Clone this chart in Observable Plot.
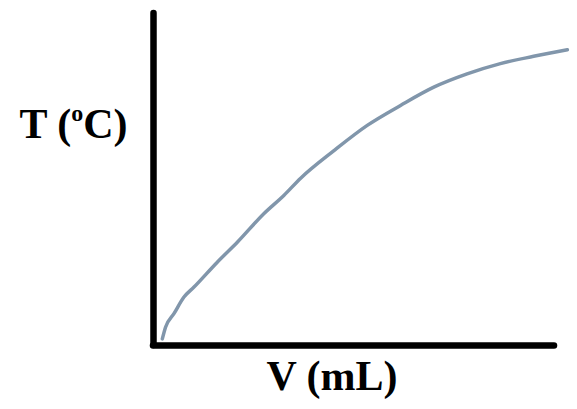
<!DOCTYPE html>
<html>
<head>
<meta charset="utf-8">
<script src="https://cdn.jsdelivr.net/npm/d3@7"></script>
<script src="https://cdn.jsdelivr.net/npm/@observablehq/plot@0.6"></script>
<style>
  html, body { margin: 0; padding: 0; background: #fff; }
</style>
</head>
<body>
<div id="chart"></div>
<script>
// Volume (arbitrary units, 0–100 along the axis)
const volume = [2.2, 3.0, 5.1, 7.6, 10.1, 15.9, 20.9, 27.5, 32.5, 36.7, 45.0, 53.3, 61.6, 69.9, 78.2, 86.5, 94.8, 103.2];
// Temperature (arbitrary units, 0–100 along the axis)
const temperature = [2.0, 5.5, 9.6, 14.6, 17.6, 25.1, 31.1, 39.7, 45.2, 50.4, 58.7, 66.3, 72.3, 77.8, 81.8, 84.9, 87.1, 89.1];
const xLabel = "V (mL)";
const yLabel = "T (°C)";
const xDomain = [0, 100];
const yDomain = [0, 100];

const curve = volume.map((v, i) => ({v, t: temperature[i]}));

const chart = Plot.plot({
  width: 577,
  height: 409,
  marginLeft: 153,
  marginRight: 23,
  marginTop: 13,
  marginBottom: 64,
  x: {domain: xDomain, axis: null},
  y: {domain: yDomain, axis: null},
  style: {background: "#fff", overflow: "visible"},
  marks: [
    Plot.line(curve, {x: "v", y: "t", stroke: "#8196ab", strokeWidth: 3.5, curve: "monotone-x", clip: false}),
    Plot.ruleX([xDomain[0]], {y1: yDomain[0], y2: yDomain[1], stroke: "#000", strokeWidth: 6.5, strokeLinecap: "round"}),
    Plot.ruleY([yDomain[0]], {x1: xDomain[0], x2: xDomain[1], stroke: "#000", strokeWidth: 6.5, strokeLinecap: "round"}),
    Plot.text([yLabel], {frameAnchor: "left", textAnchor: "end", lineAnchor: "middle", dx: -26, dy: -55,
      fontFamily: "Liberation Serif", fontWeight: "bold", fontSize: 42, fill: "#000", className: "ylab"}),
    Plot.text([xLabel], {frameAnchor: "bottom", textAnchor: "middle", lineAnchor: "middle", dx: -22, dy: 31,
      fontFamily: "Liberation Serif", fontWeight: "bold", fontSize: 42, fill: "#000"})
  ]
});
document.getElementById("chart").append(chart);

// Render the degree sign as a small superscript "o", as in the original
d3.select(chart).selectAll("g.ylab text").each(function () {
  const t = d3.select(this);
  const parts = yLabel.split("°");
  if (parts.length !== 2) return;
  t.text(null);
  t.append("tspan").text(parts[0]);
  t.append("tspan").attr("font-size", 24).attr("dy", -17).text("o");
  t.append("tspan").attr("dy", 17).text(parts[1]);
});
</script>
</body>
</html>
